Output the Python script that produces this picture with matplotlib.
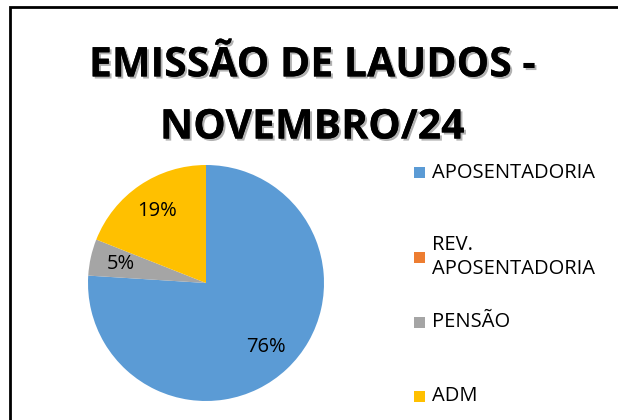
import matplotlib.pyplot as plt
import matplotlib.patheffects as pe
from matplotlib.patches import Rectangle
from matplotlib.lines import Line2D

# chart data
categories = ["APOSENTADORIA", "REV.\nAPOSENTADORIA", "PENSÃO", "ADM"]
values = [76, 0, 5, 19]
colors = ["#5B9BD5", "#ED7D31", "#A5A5A5", "#FFC000"]
title = "EMISSÃO DE LAUDOS -\nNOVEMBRO/24"

plt.rcParams['font.family'] = ['Open Sans', 'DejaVu Sans']

fig = plt.figure(figsize=(6.18, 4.2), dpi=100)

# outer chart border (only left/top visible in the crop)
bx, by = 10 / 618, 1 - 7 / 420
fig.add_artist(Line2D([bx, bx, 1.0], [0.0, by, by], transform=fig.transFigure,
                      color='black', linewidth=2, solid_joinstyle='miter'))

# title with a soft shadow
fig.text(0.505, 1 - 97 / 420, title, ha='center', va='center',
         fontsize=29.5, fontweight='bold', linespacing=1.68,
         path_effects=[pe.withSimplePatchShadow(offset=(1.5, -1.5), alpha=0.3),
                       pe.Normal()])

ax = fig.add_axes([(206 - 118) / 618, (420 - 401) / 420, 236 / 618, 236 / 420])


def fmt(p):
    return f'{p:.0f}%' if p > 0.5 else ''


wedges, texts, autotexts = ax.pie(values, colors=colors, startangle=90,
                                  counterclock=False, autopct=fmt,
                                  pctdistance=0.74,
                                  textprops={'fontsize': 14.5, 'color': 'black'})
ax.set_xlim(-1, 1)
ax.set_ylim(-1, 1)

# legend, placed like the Excel one
legend_y = [173, 257, 322, 396]
for lab, col, y in zip(categories, colors, legend_y):
    fy = 1 - y / 420
    fig.patches.append(Rectangle((414 / 618, fy - 5.5 / 420), 11 / 618, 11 / 420,
                                 transform=fig.transFigure, facecolor=col,
                                 edgecolor='none'))
    fig.text(432 / 618, fy, lab, ha='left', va='center', fontsize=14.5,
             linespacing=1.25)

plt.savefig('out.png', dpi=100)
